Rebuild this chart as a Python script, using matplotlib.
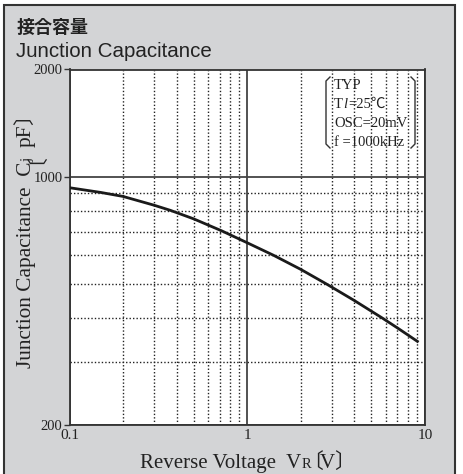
import matplotlib
matplotlib.use("Agg")
import matplotlib.pyplot as plt
from matplotlib.patches import Rectangle
from matplotlib.lines import Line2D
from matplotlib.ticker import FixedLocator, NullFormatter

volts = [0.1, 0.15, 0.2, 0.3, 0.37, 0.5, 0.72, 1.0, 1.4, 2.0, 2.8, 4.0, 5.7, 7.0, 9.2]
cap_pf = [930, 902, 879, 830, 803, 760, 703, 651, 601, 548, 498, 448, 401, 375, 342]

x_major = [0.1, 1, 10]
x_labels = ["0.1", "1", "10"]
x_minor = [0.2, 0.3, 0.4, 0.5, 0.6, 0.7, 0.8, 0.9, 2, 3, 4, 5, 6, 7, 8, 9]
y_major = [200, 1000, 2000]
y_labels = ["200", "1000", "2000"]
y_minor = [300, 400, 500, 600, 700, 800, 900]

cond_lines = ["TYP", "=25℃", "OSC=20mV", "f =1000kHz"]

W, H = 463, 474
SERIF = ["Liberation Serif", "Noto Sans CJK JP"]
CJK = ["Noto Sans CJK JP"]

fig = plt.figure(figsize=(W / 100, H / 100), dpi=100)
fig.patch.set_facecolor("white")

def fx(px):
    return px / W

def fy(py):
    return 1 - py / H

# grey panel with dark frame
fig.add_artist(Rectangle((fx(4), fy(478)), fx(451), 473 / H, transform=fig.transFigure,
                         facecolor="#d3d4d6", edgecolor="#333333", lw=1.5, zorder=0))

fig.text(fx(17), fy(33), "接合容量", fontsize=13, fontweight="bold",
         family=CJK, color="#222222", va="baseline")
fig.text(fx(16), fy(57), "Junction Capacitance", fontsize=14.8,
         family=["Liberation Sans"], color="#222222", va="baseline")

ax = fig.add_axes([fx(69.5), 1 - 425 / H, (425 - 69.5) / W, (425 - 69.5) / H])
ax.set_facecolor("white")
ax.set_xscale("log")
ax.set_yscale("log")
ax.set_xlim(0.1, 10)
ax.set_ylim(200, 2000)

ax.xaxis.set_major_locator(FixedLocator(x_major))
ax.xaxis.set_minor_locator(FixedLocator(x_minor))
ax.yaxis.set_major_locator(FixedLocator(y_major))
ax.yaxis.set_minor_locator(FixedLocator(y_minor))
ax.xaxis.set_minor_formatter(NullFormatter())
ax.yaxis.set_minor_formatter(NullFormatter())
ax.set_xticklabels(x_labels, family=SERIF, fontsize=11, color="#222222")
ax.set_yticklabels(y_labels, family=SERIF, fontsize=10.5, color="#222222")
ax.tick_params(axis="x", which="major", length=0, pad=3)
ax.tick_params(axis="y", which="major", length=4, width=1, pad=1, color="#333333")
ax.tick_params(which="minor", length=0)

ax.grid(which="major", color="#444444", lw=1.3, ls="-")
ax.grid(which="minor", color="#222222", lw=1.0, ls=(0, (1.0, 1.5)))
ax.set_axisbelow(True)
for s in ax.spines.values():
    s.set_color("#333333")
    s.set_linewidth(1.3)

ax.plot(volts, cap_pf, color="#1a1a1a", lw=2.0, solid_capstyle="butt", zorder=3)

fig.canvas.draw()
renderer = fig.canvas.get_renderer()

def chain(x, y, parts, rotation=0):
    # lay text pieces one after another, in pixels (y from top);
    # shift pulls a piece back (CJK brackets carry wide side bearings)
    for s, size, fam, shift, after in parts:
        if rotation:
            y += shift
        else:
            x -= shift
        t = fig.text(fx(x), fy(y), s, fontsize=size, family=fam, color="#222222",
                     ha="left", va="baseline", rotation=rotation, rotation_mode="anchor")
        bb = t.get_window_extent(renderer)
        if rotation:
            y -= bb.height - after
        else:
            x += bb.width - after

chain(140, 468, [("Reverse Voltage  V", 15, SERIF, 0, 0), ("R", 10.5, SERIF, 0, 0),
                 ("〔", 15, CJK, 9, 3), ("V", 15, SERIF, 0, 0), ("〕", 15, CJK, 1, 0)])
chain(31, 368, [("Junction Capacitance  C", 15.3, SERIF, 0, 0), ("j", 10.5, SERIF, 0, 0),
                ("〔", 15, CJK, 7, 3), ("pF", 15.3, SERIF, 0, 0), ("〕", 15, CJK, 1, 0)],
      rotation=90)

# condition box
x0 = 334
line_y = [89, 108, 127, 146]
fs = 10.5
fig.text(fx(x0), fy(line_y[0]), cond_lines[0], fontsize=fs, family=SERIF, color="#222222", va="baseline")
t = fig.text(fx(x0), fy(line_y[1]), "T", fontsize=fs, family=SERIF, color="#222222", va="baseline")
tw = t.get_window_extent(renderer).width
t2 = fig.text(fx(x0 + tw), fy(line_y[1]), "l", fontsize=fs, family=SERIF, style="italic",
              color="#222222", va="baseline")
lw2 = t2.get_window_extent(renderer).width
fig.text(fx(x0 + tw + lw2 + 1), fy(line_y[1]), cond_lines[1], fontsize=fs, family=SERIF,
         color="#222222", va="baseline")
fig.text(fx(x0), fy(line_y[2]), cond_lines[2], fontsize=fs, family=SERIF, color="#222222", va="baseline")
fig.text(fx(x0), fy(line_y[3]), cond_lines[3], fontsize=fs, family=SERIF, color="#222222", va="baseline")

for xs in ([330, 326, 326, 330], [411, 415, 415, 411]):
    fig.add_artist(Line2D([fx(v) for v in xs], [fy(77), fy(81), fy(144), fy(148)],
                          transform=fig.transFigure, color="#333333", lw=1.0))

fig.savefig("out.png", dpi=100)
